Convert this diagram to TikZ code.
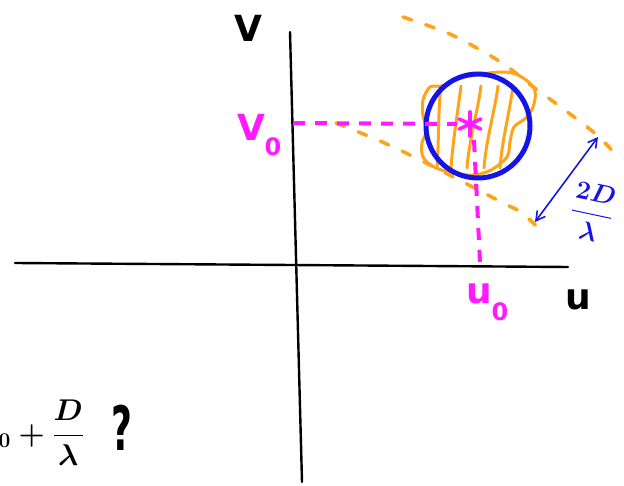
\RequirePackage{fix-cm}
\documentclass[tikz,border=0pt]{standalone}
\usepackage{fontspec}
\usepackage{amsmath}
\setsansfont{DejaVu Sans}
\usetikzlibrary{arrows.meta,calc}
\definecolor{sketchorange}{HTML}{FFA31A}
\definecolor{sketchmagenta}{HTML}{FF1AFF}
\definecolor{sketchblue}{HTML}{1414E6}

\begin{document}
\begin{tikzpicture}[x=1pt, y=-1pt,
  axis/.style={line width=2.4pt, line cap=round},
  lbl/.style={font=\sffamily\bfseries\fontsize{36}{36}\selectfont, inner sep=0pt},
  sub/.style={font=\sffamily\bfseries\fontsize{24}{24}\selectfont, inner sep=0pt},
  proj/.style={sketchmagenta, line width=4pt, dash pattern=on 12pt off 10pt},
  beam/.style={sketchorange, line width=3.6pt, line cap=round, dash pattern=on 9pt off 15pt},
  blob/.style={sketchorange, line width=3pt, line cap=round, line join=round},
  beamsize/.style={sketchblue, line width=1.6pt, {Straight Barb[length=9pt,width=10pt]}-{Straight Barb[length=9pt,width=10pt]}},
]
\useasboundingbox (0,0) rectangle (624,486);
\clip (0,0) rectangle (624,486);

% axes
\coordinate (vtop) at (290,32);
\coordinate (vbot) at (302,482);
\coordinate (uleft) at (15,263);
\coordinate (uright) at (568,267);
\draw[axis] (vbot) -- (vtop);
\draw[axis] (uleft) -- (uright);
\node[lbl] (vlab) at (248,28) {V};
\node[lbl] (ulab) at (578,300) {u};

% dashed beam edges
\draw[beam] plot[smooth, tension=0.7] coordinates
  {(403,17) (445,32) (475,47) (505,65) (532,86) (562,108) (598,136) (618,158)};
\draw[beam] plot[smooth, tension=0.7] coordinates
  {(336,123) (380,141) (420,160) (465,183) (503,203) (522,213) (542,232)};

% hatched source
\draw[blob] plot[smooth cycle, tension=0.55] coordinates
  {(423,100) (430,87) (442,86) (455,80) (470,76) (500,72) (518,75) (534,88)
   (534,104) (527,117) (514,127) (510,142) (507,157) (491,170) (473,175)
   (453,173) (434,167) (423,157) (422,143) (427,130) (423,116)};
\foreach \xa/\xb in {437/441, 451/461, 467/481, 484/498, 500/513}
  \draw[blob] (\xa,168) .. controls (\xa+2,140) and (\xb-3,110) .. (\xb,86);

% primary beam
\node[draw=sketchblue, line width=5pt, circle, minimum size=104pt, inner sep=0pt]
  (beam) at (478,126) {};

% pointing centre
\coordinate (src) at (470,124);
\foreach \a in {90,25,155}
  \draw[sketchmagenta, line width=3.6pt, line cap=round]
    ($(src)+(\a:12)$) -- ($(src)+(\a+180:12)$);
\coordinate (vfoot) at (293,123);
\coordinate (ufoot) at (480,262);
\draw[proj] (vfoot) -- ($(src)+(-13,0)$);
\draw[proj] ($(src)+(4,16)$) -- (ufoot);
\node[lbl, sketchmagenta] (v0) at (251,127) {V};
\node[sub, sketchmagenta] (v0s) at (273,147) {0};
\node[lbl, sketchmagenta] (u0) at (479,294) {u};
\node[sub, sketchmagenta] (u0s) at (500,312) {0};

% beam width
\coordinate (wlow) at (535,222);
\coordinate (whigh) at (598,137);
\draw[beamsize] (wlow) -- (whigh);
\node[sketchblue, rotate=-12, inner sep=0pt, font=\fontsize{26}{26}\selectfont\boldmath]
  (wlab) at (592,212) {$\displaystyle\frac{2D}{\lambda}$};

% question
\node[anchor=west, inner sep=0pt, font=\fontsize{30}{30}\selectfont\boldmath]
  (guess) at (-22,433) {$u_0+\displaystyle\frac{D}{\lambda}$};
\node[lbl] (qmark) at (122,428) {\scalebox{1}[1.7]{?}};
\end{tikzpicture}
\end{document}
